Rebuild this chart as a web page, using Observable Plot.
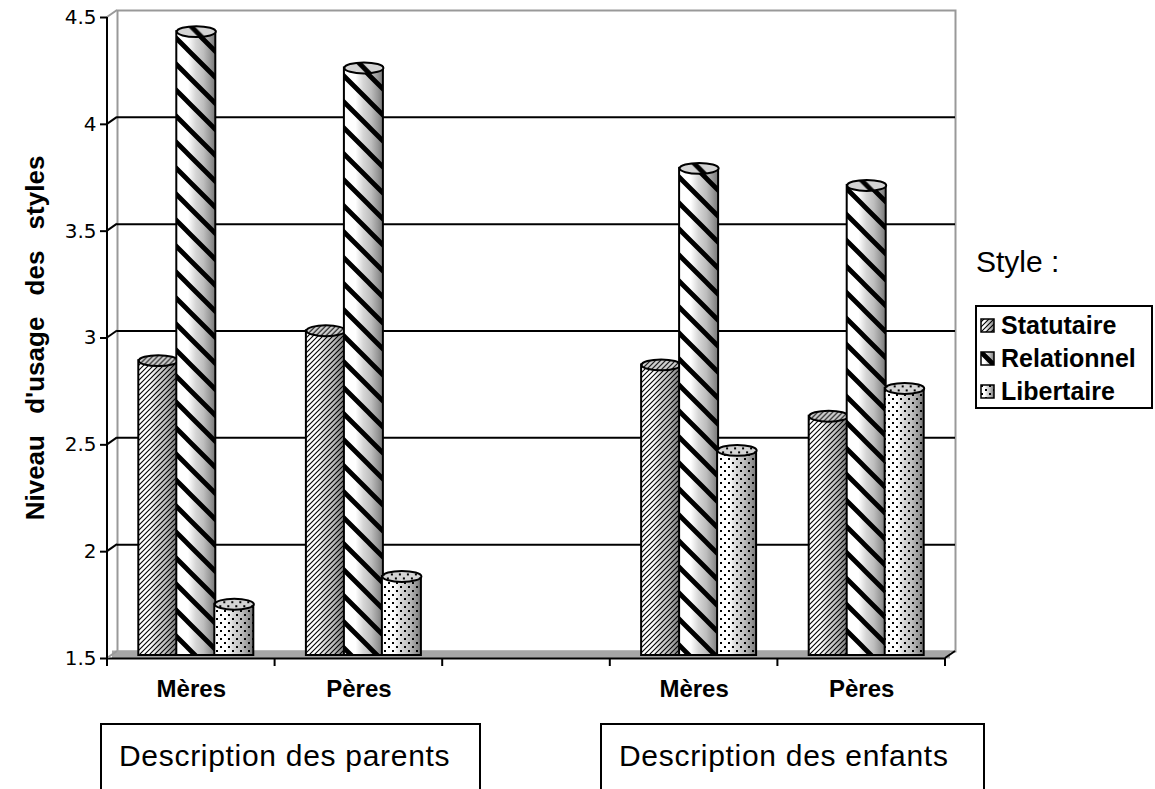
<!DOCTYPE html>
<html><head><meta charset="utf-8">
<script src="https://cdn.jsdelivr.net/npm/d3@7"></script>
<script src="https://cdn.jsdelivr.net/npm/@observablehq/plot@0.6"></script>
<style>
body{margin:0;background:#fff;font-family:"Liberation Sans",Arial,sans-serif;color:#000;}
#wrap{position:relative;width:1155px;height:789px;overflow:hidden;background:#fff;}
#chart{position:absolute;left:0;top:0;}
#styleTitle{position:absolute;left:976px;top:247px;font-size:30px;line-height:30px;white-space:nowrap;}
#legend{position:absolute;left:975px;top:305px;width:178px;height:104px;border:2px solid #000;box-sizing:border-box;}
.lrow{position:absolute;left:3px;height:30px;line-height:30px;font-size:25px;font-weight:bold;white-space:nowrap;}
.lrow svg{vertical-align:middle;margin-right:6px;position:relative;top:-2px;}
.grp{position:absolute;top:723px;height:90px;border:2px solid #000;box-sizing:border-box;}
.grp span{position:absolute;top:16px;left:17px;font-size:30px;line-height:30px;letter-spacing:0.7px;white-space:nowrap;}
</style></head><body>
<svg width="0" height="0" style="position:absolute">
<defs>
<linearGradient id="cyl" x1="0" y1="0" x2="1" y2="0">
<stop offset="0" stop-color="#ffffff"/><stop offset="0.3" stop-color="#ffffff"/>
<stop offset="0.5" stop-color="#d6d6d6"/><stop offset="0.7" stop-color="#bdbdbd"/>
<stop offset="0.86" stop-color="#9a9a9a"/><stop offset="1" stop-color="#767676"/>
</linearGradient>
<pattern id="pat0" patternUnits="userSpaceOnUse" width="5" height="5">
<path d="M-1,1 L1,-1 M0,5 L5,0 M4,6 L6,4" stroke="#000" stroke-width="1.1"/>
</pattern>
<pattern id="pat1" patternUnits="userSpaceOnUse" width="26" height="26">
<path d="M-2,-2 L28,28 M-2,24 L2,28 M24,-2 L28,2" stroke="#000" stroke-width="4.8"/>
</pattern>
<pattern id="pat2" patternUnits="userSpaceOnUse" width="8" height="8">
<rect x="1" y="1" width="2" height="2" fill="#000"/><rect x="5" y="5" width="2" height="2" fill="#000"/>
</pattern>
</defs>
</svg>
<div id="wrap">
<div id="chart"></div>
<div id="styleTitle"></div>
<div id="legend"></div>
<div class="grp" id="g0" style="left:100px;width:381px;"><span></span></div>
<div class="grp" id="g1" style="left:600px;width:385px;"><span></span></div>
</div>
<script>
// ---- data ----
const slots = ["P-Mères", "P-Pères", "gap", "E-Mères", "E-Pères"];
const slotLabels = ["Mères", "Pères", "", "Mères", "Pères"];
const dataSlots = ["P-Mères", "P-Pères", "E-Mères", "E-Pères"];
const styles = ["Statutaire", "Relationnel", "Libertaire"];
const statutaire = [2.88, 3.02, 2.86, 2.62];
const relationnel = [4.42, 4.25, 3.78, 3.70];
const libertaire = [1.74, 1.87, 2.46, 2.75];
const groupLabels = ["Description des parents", "Description des enfants"];
const yTicks = [1.5, 2, 2.5, 3, 3.5, 4, 4.5];
const gridTicks = [2, 2.5, 3, 3.5, 4];
const yTitle = "Niveau d'usage des styles";
const legendTitle = "Style :";

const seriesValues = [statutaire, relationnel, libertaire];
const patterns = ["url(#pat0)", "url(#pat1)", "url(#pat2)"];
const rows = (vals) => dataSlots.map((slot, j) => ({slot, value: vals[j]}));
const labelOf = Object.fromEntries(slots.map((s, i) => [s, slotLabels[i]]));

// ---- layout ----
const W = 1155, H = 700, mL = 107, mR = 210, mT = 17, mB = 42;
const band = (W - mL - mR) / slots.length;
const barW = 39, stride = 38, depthDx = 5, depthDy = -3;
const inset = (band - barW) / 2;

const ellipse = {
  draw(ctx, size) {
    const rx = Math.sqrt(size / Math.PI), ry = rx * 0.28, k = 0.5523;
    ctx.moveTo(-rx, 0);
    ctx.bezierCurveTo(-rx, -ry * k, -rx * k, -ry, 0, -ry);
    ctx.bezierCurveTo(rx * k, -ry, rx, -ry * k, rx, 0);
    ctx.bezierCurveTo(rx, ry * k, rx * k, ry, 0, ry);
    ctx.bezierCurveTo(-rx * k, ry, -rx, ry * k, -rx, 0);
    ctx.closePath();
  }
};

const decor = (index, scales, values, dims) => {
  const sy = (scales && typeof scales.y === "function") ? scales.y
    : (v) => dims.marginTop + (4.5 - v) / 3 * (dims.height - dims.marginTop - dims.marginBottom);
  const g = d3.create("svg:g");
  const x0 = dims.marginLeft, x1 = dims.width - dims.marginRight;
  const yb = dims.height - dims.marginBottom;
  for (const v of yTicks) {
    const y = sy(v);
    g.append("line").attr("x1", x0).attr("y1", y).attr("x2", x0 + 10).attr("y2", y - 7)
      .attr("stroke", (v === 1.5 || v === 4.5) ? "#999" : "#000").attr("stroke-width", 2);
  }
  g.append("line").attr("x1", x1).attr("y1", yb).attr("x2", x1 + 10).attr("y2", yb - 7)
    .attr("stroke", "#000").attr("stroke-width", 2);
  g.append("line").attr("x1", x0).attr("x2", x0).attr("y1", dims.marginTop).attr("y2", yb)
    .attr("stroke", "#000").attr("stroke-width", 2);
  const step = (x1 - x0) / slots.length;
  for (let i = 0; i <= slots.length; i++) {
    g.append("line").attr("x1", x0 + i * step).attr("x2", x0 + i * step).attr("y1", yb).attr("y2", yb + 8)
      .attr("stroke", "#000").attr("stroke-width", 2);
  }
  return g.node();
};

const seriesMarks = styles.flatMap((s, i) => {
  const data = rows(seriesValues[i]);
  const dx = (i - 1) * stride + depthDx;
  return [
    Plot.barY(data, {x: "slot", y1: 1.5, y2: "value", insetLeft: inset, insetRight: inset, dx, dy: depthDy, fill: "url(#cyl)"}),
    Plot.barY(data, {x: "slot", y1: 1.5, y2: "value", insetLeft: inset, insetRight: inset, dx, dy: depthDy, fill: patterns[i], stroke: "#000", strokeWidth: 2}),
    Plot.dot(data, {x: "slot", y: "value", dx, dy: depthDy, symbol: ellipse, r: barW / 2, fill: "#d4d4d4"}),
    Plot.dot(data, {x: "slot", y: "value", dx, dy: depthDy, symbol: ellipse, r: barW / 2, fill: patterns[i], stroke: "#000", strokeWidth: 2})
  ];
});

const chart = Plot.plot({
  width: W, height: H,
  marginLeft: mL, marginRight: mR, marginTop: mT, marginBottom: mB,
  style: {fontFamily: "'Liberation Sans', Arial, sans-serif", color: "#000", background: "#fff", overflow: "visible"},
  x: {type: "band", domain: slots, padding: 0, round: false},
  y: {domain: [1.5, 4.5]},
  marks: [
    Plot.frame({stroke: "#999", strokeWidth: 2, dx: 10, dy: -7}),
    Plot.ruleY(gridTicks, {dx: 10, dy: -7, stroke: "#000", strokeWidth: 2}),
    Plot.ruleY([1.5], {dx: 5, dy: -4, stroke: "#a6a6a6", strokeWidth: 8}),
    Plot.ruleY([1.5], {stroke: "#000", strokeWidth: 2}),
    decor,
    ...seriesMarks,
    Plot.axisY({ticks: yTicks, tickFormat: (d) => String(d), tickSize: 7, tickPadding: 4, strokeWidth: 2, fontSize: 20, fontFamily: "'DejaVu Sans', sans-serif", label: null}),
    Plot.axisX({tickSize: 0, tickPadding: 21, fontSize: 24, fontWeight: "bold", tickFormat: (d) => labelOf[d], label: null}),
    Plot.text([yTitle], {text: (d) => d, frameAnchor: "left", textAnchor: "middle", rotate: -90, dx: -72, fontSize: 26, fontWeight: "bold"})
  ]
});
document.getElementById("chart").appendChild(chart);
d3.select(chart).selectAll("text").filter(function () { return this.textContent === yTitle; }).style("word-spacing", "14px");

document.getElementById("styleTitle").textContent = legendTitle;
const leg = document.getElementById("legend");
styles.forEach((s, i) => {
  const row = document.createElement("div");
  row.className = "lrow";
  row.style.top = (3 + i * 33) + "px";
  row.innerHTML = `<svg width="15" height="15"><rect x="1" y="1" width="13" height="13" fill="url(#cyl)"/><rect x="1" y="1" width="13" height="13" fill="${patterns[i]}" stroke="#000" stroke-width="1.5"/></svg>`;
  row.appendChild(document.createTextNode(s));
  leg.appendChild(row);
});
groupLabels.forEach((t, i) => { document.querySelector(`#g${i} span`).textContent = t; });
</script>
</body></html>
